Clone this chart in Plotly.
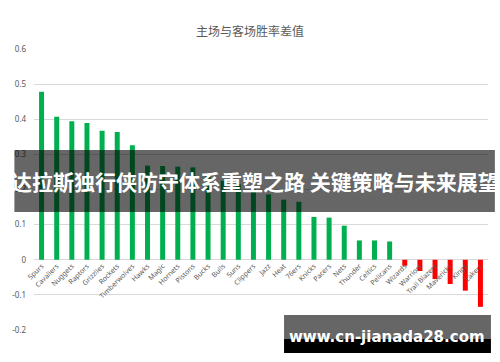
import plotly.graph_objects as go

teams = ["Spurs", "Cavaliers", "Nuggets", "Raptors", "Grizzlies", "Rockets", "Timberwolves",
         "Hawks", "Magic", "Hornets", "Pistons", "Bucks", "Bulls", "Suns", "Clippers", "Jazz",
         "Heat", "76ers", "Knicks", "Pacers", "Nets", "Thunder", "Celtics", "Pelicans",
         "Wizards", "Warriors", "Trail Blazers", "Mavericks", "Kings", "Lakers"]
diff = [0.478, 0.407, 0.394, 0.389, 0.367, 0.364, 0.326,
        0.268, 0.267, 0.265, 0.263, 0.240, 0.225, 0.215, 0.200, 0.186,
        0.171, 0.165, 0.122, 0.120, 0.097, 0.055, 0.055, 0.052,
        -0.017, -0.032, -0.055, -0.069, -0.088, -0.134]
y_ticks = [-0.2, -0.1, 0, 0.1, 0.2, 0.3, 0.4, 0.5, 0.6]
y_tick_text = ["-0.2", "-0.1", "0", "0.1", "0.2", "0.3", "0.4", "0.5", "0.6"]
title_text = "主场与客场胜率差值"
banner_text = "达拉斯独行侠防守体系重塑之路 关键策略与未来展望"
watermark_text = "www.cn-jianada28.com"

W, H = 500, 362
ML, MR, MT, MB = 25, 12, 49, 32
PW, PH = W - ML - MR, H - MT - MB

def px_x(p):
    return (p - ML) / PW

def px_y(p):
    return (H - MB - p) / PH

colors = ["#00B050" if v >= 0 else "#FF0000" for v in diff]

fig = go.Figure(go.Bar(x=teams, y=diff, marker=dict(color=colors, line=dict(width=0)),
                       width=0.33))

fig.update_layout(
    width=W, height=H,
    margin=dict(l=ML, r=MR, t=MT, b=MB),
    paper_bgcolor="white", plot_bgcolor="white",
    showlegend=False,
    title=dict(text=title_text, x=0.5, xanchor="center", y=1 - 32 / H, yanchor="middle",
               font=dict(family="Noto Sans CJK SC", size=12, color="#595959")),
    xaxis=dict(type="category", anchor="free", position=0.25, showgrid=False,
               showline=False, zeroline=False, ticks="", tickangle=-45,
               tickfont=dict(family="Noto Sans", size=7, color="#595959"),
               range=[-0.5, len(teams) - 0.5]),
    yaxis=dict(range=[-0.2, 0.6], tickvals=y_ticks, ticktext=y_tick_text,
               showgrid=True, gridcolor="#D9D9D9", gridwidth=1, zeroline=False,
               showline=False, ticks="", ticklabelstandoff=7,
               tickfont=dict(family="Noto Sans", size=8, color="#595959")),
)

# banner overlay
fig.add_shape(type="rect", xref="paper", yref="paper",
              x0=px_x(5), x1=px_x(495), y0=px_y(212), y1=px_y(150),
              fillcolor="rgba(0,0,0,0.6)", line=dict(width=0), layer="above")
fig.add_annotation(text="<b>" + banner_text + "</b>", xref="paper", yref="paper",
                   x=px_x(250), y=px_y(181), showarrow=False, xanchor="center", yanchor="middle",
                   font=dict(family="Noto Sans CJK SC", size=21, color="white"))

# watermark
fig.add_shape(type="rect", xref="paper", yref="paper",
              x0=px_x(280), x1=px_x(491), y0=px_y(339), y1=px_y(315),
              fillcolor="rgba(0,0,0,0.6)", line=dict(width=0), layer="above")
fig.add_shape(type="rect", xref="paper", yref="paper",
              x0=px_x(280), x1=px_x(491), y0=px_y(353), y1=px_y(339),
              fillcolor="black", line=dict(width=0), layer="above")
fig.add_annotation(text="<b>" + watermark_text + "</b>", xref="paper", yref="paper",
                   x=px_x(385), y=px_y(337), showarrow=False, xanchor="center", yanchor="middle",
                   font=dict(family="DejaVu Sans", size=15, color="white"))

fig.write_html("out.html")
